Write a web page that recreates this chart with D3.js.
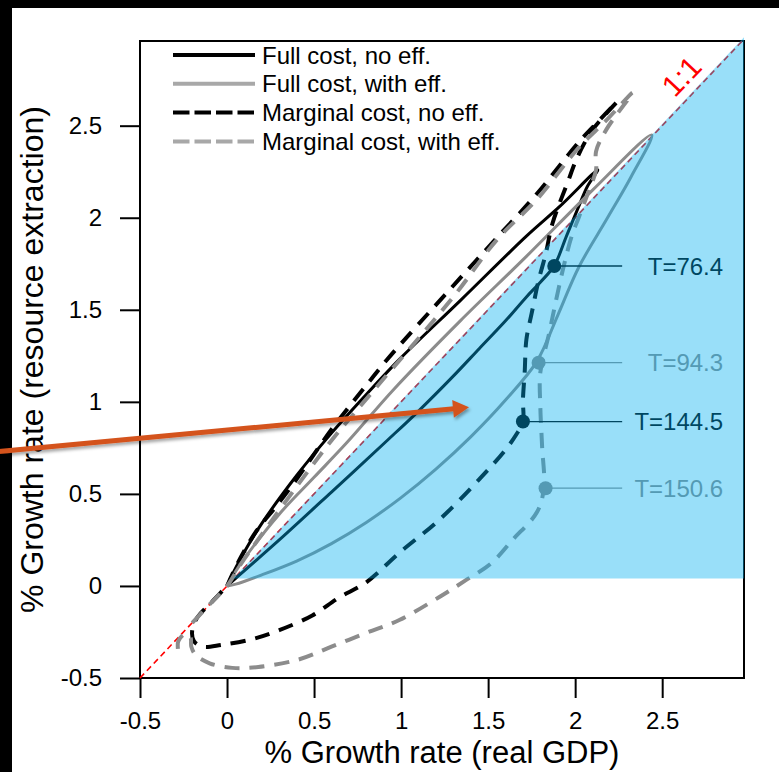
<!DOCTYPE html>
<html><head><meta charset="utf-8">
<script src="https://cdn.jsdelivr.net/npm/d3@7"></script>
<style>
html,body{margin:0;padding:0;background:#fff;}
svg{display:block;font-family:"Liberation Sans",Arial,Helvetica,sans-serif;}
</style></head><body>
<svg id="chart" width="779" height="772"></svg>
<script>
// ---- axis ticks ----
const xTicks = [-0.5, 0, 0.5, 1, 1.5, 2, 2.5];
const yTicks = [-0.5, 0, 0.5, 1, 1.5, 2, 2.5];
const xTickLabels = ["-0.5", "0", "0.5", "1", "1.5", "2", "2.5"];
const yTickLabels = ["-0.5", "0", "0.5", "1", "1.5", "2", "2.5"];

// ---- series: growth of real GDP (x) vs growth of resource extraction (y) ----
const seriesNames = ["Full cost, no eff.", "Full cost, with eff.", "Marginal cost, no eff.", "Marginal cost, with eff."];

const fullCostNoEff = [
  [0,0],[0.04,0.08],[0.09,0.17],[0.2,0.34],[0.4,0.6],[0.6,0.83],[0.8,1.04],[1.0,1.24],
  [1.34,1.55],[1.72,1.9],[1.91,2.06],[2.13,2.26],
  [2.07,2.17],[2.02,2.06],[1.95,1.9],[1.88,1.74],[1.8,1.65],[1.72,1.57],[1.6,1.44],
  [1.45,1.29],[1.29,1.13],[1.1,0.95],[0.92,0.79],[0.6,0.51],[0.3,0.25],[0.12,0.1],[0,0]
];
const fullCostWithEff = [
  [0,0],[0.05,0.08],[0.1,0.15],[0.3,0.39],[0.5,0.59],[0.69,0.78],[0.96,1.07],[1.34,1.44],
  [1.72,1.79],[2.1,2.15],[2.44,2.45],
  [2.32,2.22],[2.18,1.99],[2.02,1.73],[1.9,1.47],[1.78,1.22],[1.6,1.01],[1.4,0.81],
  [1.2,0.635],[1.0,0.48],[0.8,0.345],[0.6,0.23],[0.4,0.135],[0.2,0.06],[0.05,0.01],[0,0]
];
const marginalCostNoEff = [
  [0,0],[0.07,0.14],[0.17,0.3],[0.28,0.43],[0.4,0.58],[0.6,0.85],[0.8,1.09],[0.92,1.23],
  [1.28,1.61],[1.52,1.86],[1.78,2.13],[2.02,2.41],[2.14,2.53],[2.24,2.63],
  [2.11,2.49],[2.05,2.4],[2.0,2.3],[1.96,2.2],[1.87,1.97],[1.83,1.8],[1.79,1.66],[1.75,1.48],
  [1.72,1.34],[1.71,1.16],[1.7,1.01],[1.7,0.89],[1.66,0.82],[1.6,0.74],[1.45,0.58],[1.22,0.36],
  [0.99,0.18],[0.8,0.02],[0.64,-0.065],[0.49,-0.16],[0.3,-0.24],[0.14,-0.29],[-0.03,-0.32],
  [-0.14,-0.33],[-0.19,-0.3],[-0.2,-0.24],[-0.17,-0.17],[-0.08,-0.08],[0,0]
];
const marginalCostWithEff = [
  [-0.2,-0.2],[-0.1,-0.1],[0,0],[0.08,0.12],[0.2,0.28],[0.4,0.54],[0.6,0.79],[0.845,1.065],
  [1.3,1.57],[1.55,1.88],[1.78,2.1],[2.02,2.38],[2.18,2.53],[2.33,2.68],
  [2.18,2.48],[2.12,2.36],[2.12,2.26],[2.08,2.15],[2.02,2.0],[1.98,1.9],[1.93,1.72],[1.89,1.55],
  [1.85,1.37],[1.8,1.16],[1.8,0.97],[1.81,0.76],[1.82,0.53],[1.78,0.4],[1.64,0.25],[1.52,0.125],
  [1.37,0.03],[1.22,-0.06],[0.99,-0.185],[0.8,-0.255],[0.6,-0.33],[0.41,-0.4],[0.18,-0.44],
  [0.03,-0.445],[-0.1,-0.42],[-0.18,-0.375],[-0.205,-0.33],[-0.21,-0.28],[-0.24,-0.26],
  [-0.28,-0.3],[-0.28,-0.36]
];
const seriesData = [fullCostNoEff, fullCostWithEff, marginalCostNoEff, marginalCostWithEff];

// ---- marked time points ----
const markerLabels = ["T=76.4", "T=94.3", "T=144.5", "T=150.6"];
const markerX = [1.88, 1.79, 1.70, 1.83];
const markerY = [1.738, 1.213, 0.893, 0.531];
const markerSeries = [0, 1, 2, 3];

// ---- annotations ----
const shadedRegion = [[0.035, 0.04], [2.97, 0.04], [2.97, 2.98]];
const identityLine = [[-0.5, -0.5], [2.96, 2.96]];
const identityLabel = "1:1";
const identityLabelAt = [2.61, 2.77];
const arrowFrom = [-1.31, 0.73];
const arrowTo = [1.39, 0.97];
const xTitle = "% Growth rate (real GDP)";
const yTitle = "% Growth rate (resource extraction)";

// ---- styles ----
const seriesColor = ["#000000", "#8c8c8c", "#000000", "#8c8c8c"];
const legendColor = ["#000000", "#a8a8a8", "#000000", "#a8a8a8"];
const seriesDash = [null, null, "15,10", "15,10"];
const legendDash = [null, null, "16.5,5", "16.5,5"];
const seriesWidth = [3, 3, 4, 4];

const svg = d3.select("#chart");

// page frame
svg.append("rect").attr("x", 0).attr("y", 0).attr("width", 779).attr("height", 8).attr("fill", "#000");
svg.append("rect").attr("x", 0).attr("y", 0).attr("width", 12).attr("height", 772).attr("fill", "#000");

const x = d3.scaleLinear().domain([-0.5, 2.97]).range([140, 744]);
const y = d3.scaleLinear().domain([-0.5, 2.96]).range([678, 41]);

// axes
const xAxis = d3.axisBottom(x).tickValues(xTicks).tickFormat((d, i) => xTickLabels[i]).tickSize(20).tickPadding(6);
const yAxis = d3.axisLeft(y).tickValues(yTicks).tickFormat((d, i) => yTickLabels[i]).tickSize(20).tickPadding(18);

const gx = svg.append("g").attr("transform", `translate(0,${y(-0.5)})`).call(xAxis);
const gy = svg.append("g").attr("transform", `translate(${x(-0.5)},0)`).call(yAxis);
[gx, gy].forEach(g => {
  g.select(".domain").remove();
  g.selectAll(".tick line").attr("stroke", "#000").attr("stroke-width", 2);
  g.selectAll(".tick text").attr("fill", "#000").attr("font-size", 24)
    .attr("font-family", "'Liberation Sans', Arial, sans-serif");
});
gx.selectAll(".tick text").attr("dy", "1.05em");

// plot box
svg.append("rect")
  .attr("x", x(-0.5)).attr("y", y(2.96))
  .attr("width", x(2.97) - x(-0.5)).attr("height", y(-0.5) - y(2.96))
  .attr("fill", "none").attr("stroke", "#000").attr("stroke-width", 2);

// axis titles
svg.append("text").attr("x", (x(-0.5) + x(2.97)) / 2).attr("y", 763)
  .attr("text-anchor", "middle").attr("font-size", 31).attr("fill", "#000").text(xTitle);
svg.append("text").attr("transform", `translate(43,${(y(-0.5) + y(2.96)) / 2}) rotate(-90)`)
  .attr("text-anchor", "middle").attr("font-size", 32).attr("fill", "#000").text(yTitle);

// 1:1 reference line
svg.append("line")
  .attr("x1", x(identityLine[0][0])).attr("y1", y(identityLine[0][1]))
  .attr("x2", x(identityLine[1][0])).attr("y2", y(identityLine[1][1]))
  .attr("stroke", "#ff0000").attr("stroke-width", 1.6).attr("stroke-dasharray", "6,4");

// trajectories
const line = d3.line().x(d => x(d[0])).y(d => y(d[1])).curve(d3.curveCatmullRom.alpha(0.5));
seriesData.forEach((s, i) => {
  svg.append("path").attr("d", line(s)).attr("fill", "none")
    .attr("stroke", seriesColor[i]).attr("stroke-width", seriesWidth[i])
    .attr("stroke-dasharray", seriesDash[i]).attr("stroke-linejoin", "round");
});

// marked points with leader lines and labels
const leaderEnd = 2.27, labelRight = 2.85;
markerLabels.forEach((lab, i) => {
  const c = seriesColor[markerSeries[i]];
  svg.append("line").attr("x1", x(markerX[i])).attr("y1", y(markerY[i]))
    .attr("x2", x(leaderEnd)).attr("y2", y(markerY[i]))
    .attr("stroke", c).attr("stroke-width", 1.3);
  svg.append("circle").attr("cx", x(markerX[i])).attr("cy", y(markerY[i])).attr("r", 7).attr("fill", c);
  svg.append("text").attr("x", x(labelRight)).attr("y", y(markerY[i])).attr("dy", "0.36em")
    .attr("text-anchor", "end").attr("font-size", 24).attr("fill", c).text(lab);
});

// shaded region below the 1:1 line
svg.append("path").attr("d", d3.line().x(d => x(d[0])).y(d => y(d[1]))(shadedRegion) + "Z")
  .attr("fill", "#00b0f0").attr("fill-opacity", 0.4);

// legend
const legend = svg.append("g");
seriesNames.forEach((name, i) => {
  const ly = 55 + i * 28.8;
  legend.append("line").attr("x1", 173).attr("x2", 255).attr("y1", ly).attr("y2", ly)
    .attr("stroke", legendColor[i]).attr("stroke-width", 4).attr("stroke-dasharray", legendDash[i]);
  legend.append("text").attr("x", 262).attr("y", ly)
    .attr("dy", "0.36em").attr("font-size", 24).attr("fill", "#000").text(name);
});

// 1:1 label
const ang = Math.atan2(y(0) - y(1), x(1) - x(0)) * 180 / Math.PI;
svg.append("text")
  .attr("transform", `translate(${x(identityLabelAt[0])},${y(identityLabelAt[1])}) rotate(${-ang})`)
  .attr("text-anchor", "middle").attr("dy", "0.36em").attr("font-size", 30).attr("fill", "#ff0000")
  .text(identityLabel);

// orange arrow
const defs = svg.append("defs");
const f = defs.append("filter").attr("id", "shadow").attr("x", "-20%").attr("y", "-50%").attr("width", "140%").attr("height", "200%");
f.append("feDropShadow").attr("dx", 1.5).attr("dy", 2.5).attr("stdDeviation", 1.8)
  .attr("flood-color", "#000").attr("flood-opacity", 0.35);
const ax0 = x(arrowFrom[0]), ay0 = y(arrowFrom[1]), ax1 = x(arrowTo[0]), ay1 = y(arrowTo[1]);
const a = Math.atan2(ay1 - ay0, ax1 - ax0);
const headLen = 16, headHalf = 9;
const bx = ax1 - headLen * Math.cos(a), by = ay1 - headLen * Math.sin(a);
const arrow = svg.append("g").attr("filter", "url(#shadow)");
arrow.append("line").attr("x1", ax0).attr("y1", ay0).attr("x2", bx + Math.cos(a)).attr("y2", by + Math.sin(a))
  .attr("stroke", "#d4521c").attr("stroke-width", 5);
arrow.append("path").attr("d", d3.line()([
  [ax1, ay1],
  [bx - headHalf * Math.sin(a), by + headHalf * Math.cos(a)],
  [bx + headHalf * Math.sin(a), by - headHalf * Math.cos(a)]
]) + "Z").attr("fill", "#d4521c");
</script>
</body></html>
